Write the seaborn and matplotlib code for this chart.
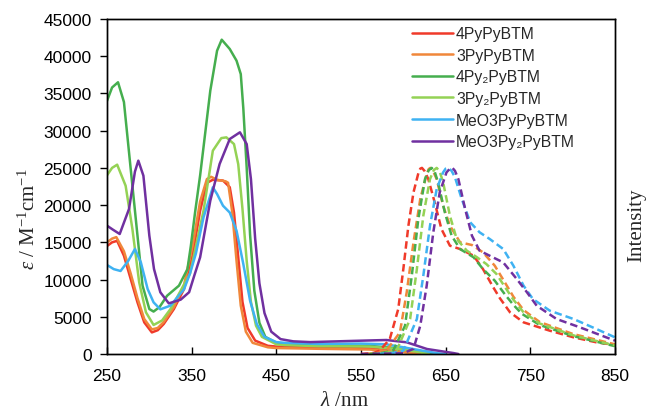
import numpy as np
import pandas as pd
import matplotlib
matplotlib.use("Agg")
import matplotlib.pyplot as plt
import seaborn as sns

# ---------------- data ----------------
names = ["4PyPyBTM", "3PyPyBTM", "4Py\u2082PyBTM", "3Py\u2082PyBTM", "MeO3PyPyBTM", "MeO3Py\u2082PyBTM"]
colors = ["#F03A2A", "#F0873A", "#45AE4E", "#94D255", "#3FB2F2", "#7030A0"]

# absorption (epsilon / M-1 cm-1)
abs_red_wl = [250, 256, 262, 270, 278, 286, 294, 303, 310, 317, 329, 341, 351, 360, 368, 375, 387, 395, 400, 405, 410, 416, 425, 440, 450, 500, 560, 600, 620]
abs_red_ep = [14500, 15000, 15200, 13200, 10070, 6940, 4250, 2900, 3200, 4030, 6040, 8730, 13200, 19250, 23000, 23400, 23300, 22400, 19000, 13000, 7000, 3500, 1800, 1100, 1000, 900, 750, 300, 0]

abs_org_wl = [250, 256, 261, 270, 278, 286, 294, 303, 310, 317, 329, 341, 351, 360, 368, 373, 380, 390, 393, 398, 403, 408, 414, 422, 440, 450, 500, 560, 600, 620]
abs_org_ep = [15000, 15500, 15700, 13800, 10800, 7500, 4700, 3300, 3500, 4300, 6300, 9300, 14500, 20500, 23500, 23800, 23400, 23200, 23000, 19000, 12500, 6500, 3000, 1500, 900, 800, 700, 600, 250, 0]

abs_grn_wl = [250, 256, 263, 270, 278, 286, 292, 300, 305, 312, 321, 335, 345, 349, 354, 360, 372, 380, 385.5, 395, 403, 408, 411, 415, 419, 424, 430, 437, 450, 460, 500, 560, 600, 630, 640]
abs_grn_ep = [34000, 35800, 36500, 33850, 24850, 15900, 9180, 6040, 5700, 6300, 7830, 9180, 11400, 14500, 19000, 24000, 35370, 40740, 42220, 40970, 39400, 37600, 33000, 25000, 16000, 8500, 4200, 2300, 1500, 1300, 1150, 1100, 700, 100, 0]

abs_lgr_wl = [250, 256, 262, 272, 280, 288, 296, 305, 315, 325, 337, 348, 356, 364, 375, 385, 391, 400, 405, 410, 415, 420, 426, 433, 450, 460, 500, 560, 600, 630]
abs_lgr_ep = [24000, 25000, 25430, 22600, 16790, 9630, 5600, 3900, 4500, 6040, 8500, 10800, 15000, 19250, 27310, 29000, 29100, 28200, 25500, 19500, 12500, 7000, 3800, 2300, 1300, 1200, 1050, 1000, 600, 50]

abs_blu_wl = [250, 258, 266, 275, 283, 290, 298, 305, 313, 325, 341, 348, 355, 364, 375, 380, 387, 395, 403, 411, 419, 427, 436, 450, 460, 500, 550, 580, 610, 640, 650]
abs_blu_ep = [11960, 11400, 11150, 12500, 14100, 12300, 8730, 6940, 6000, 6500, 8700, 10800, 13500, 18360, 22390, 21490, 19920, 19000, 16560, 12090, 7160, 4000, 2300, 1600, 1500, 1350, 1400, 1300, 700, 100, 0]

abs_pur_wl = [250, 257, 265, 276, 283, 287, 293, 300, 305.5, 313, 323, 337, 347, 353, 360, 372, 383, 395, 407, 415, 420, 425, 430, 436, 444, 455, 470, 490, 550, 580, 604, 628, 659, 665]
abs_pur_ep = [17240, 16700, 16120, 19480, 24500, 25970, 23950, 15900, 11420, 8290, 6800, 7300, 8300, 10500, 12990, 20590, 25520, 28880, 29780, 28200, 23500, 15500, 9500, 5500, 3000, 2000, 1700, 1600, 1790, 1880, 1570, 670, 130, 0]

# emission (normalised intensity, drawn on the same scale)
em_red_wl = [550, 565, 572, 584, 594, 600, 606, 612, 618, 620, 622, 625, 629.5, 637, 645, 655, 667, 683, 694, 706, 714, 726, 742, 773, 801, 828, 850]
em_red_in = [0, 150, 450, 2010, 6040, 11420, 17240, 21720, 24400, 24900, 25000, 24600, 23500, 20380, 16790, 14550, 14100, 13200, 11420, 9000, 7500, 5600, 4250, 3130, 2240, 1570, 1210]

em_org_wl = [555, 570, 580, 596, 604, 612, 620, 627.6, 630, 632, 635, 639.4, 647, 655, 667, 681, 694, 708, 720, 730, 742, 761, 800, 850]
em_org_in = [0, 150, 450, 2910, 8290, 15000, 20820, 24180, 24850, 25000, 24600, 23500, 19920, 17240, 15000, 14640, 13660, 11860, 9600, 7700, 5900, 4300, 2700, 1300]

em_grn_wl = [560, 575, 588, 602, 610, 617.7, 625.6, 630, 633.5, 637, 641, 649, 657, 667, 683, 694, 708, 720, 730, 740, 761, 801, 850]
em_grn_in = [0, 150, 450, 3800, 10520, 18130, 23500, 24700, 25000, 24500, 23060, 19030, 15900, 14100, 12990, 11420, 9850, 8000, 6600, 5400, 3900, 2400, 1050]

em_lgr_wl = [565, 580, 592, 608, 616, 623.6, 631.5, 636, 639.4, 643, 647, 655, 663, 675, 687, 698, 710, 720, 730, 742, 761, 801, 850]
em_lgr_in = [0, 150, 450, 4700, 11420, 18580, 23500, 24700, 25000, 24500, 23060, 18580, 15450, 13880, 12990, 12090, 10750, 9000, 7300, 5600, 4100, 2500, 1150]

em_blu_wl = [570, 588, 600, 616, 623.6, 631.5, 639.4, 647, 650, 653, 657, 661, 669, 679, 690, 702, 718, 730, 742, 753, 773, 801, 828, 850]
em_blu_in = [0, 150, 450, 4700, 10520, 17240, 22160, 24400, 24900, 25000, 24600, 23730, 20820, 17690, 16350, 15450, 14100, 11860, 9180, 7390, 5820, 4700, 3360, 2240]

em_pur_wl = [550, 600, 612, 620, 627.6, 635.4, 643, 651, 655, 658, 661, 665, 673, 681, 690, 702, 718, 734, 746, 757.5, 781, 808.6, 850]
em_pur_in = [0, 100, 700, 3800, 9180, 16350, 21720, 24400, 24900, 25000, 24600, 23500, 19480, 15900, 13880, 13200, 12300, 10070, 8290, 6490, 4700, 3580, 1790]

x_ticks = [250, 350, 450, 550, 650, 750, 850]
y_ticks = [0, 5000, 10000, 15000, 20000, 25000, 30000, 35000, 40000, 45000]

abs_series = [(abs_red_wl, abs_red_ep), (abs_org_wl, abs_org_ep), (abs_grn_wl, abs_grn_ep),
              (abs_lgr_wl, abs_lgr_ep), (abs_blu_wl, abs_blu_ep), (abs_pur_wl, abs_pur_ep)]
em_series = [(em_red_wl, em_red_in), (em_org_wl, em_org_in), (em_grn_wl, em_grn_in),
             (em_lgr_wl, em_lgr_in), (em_blu_wl, em_blu_in), (em_pur_wl, em_pur_in)]

abs_df = pd.concat([pd.DataFrame({"wl": w, "val": v, "compound": n})
                    for (w, v), n in zip(abs_series, names)], ignore_index=True)
em_df = pd.concat([pd.DataFrame({"wl": w, "val": v, "compound": n})
                   for (w, v), n in zip(em_series, names)], ignore_index=True)

# ---------------- styling ----------------
sns.set_theme(style="ticks")
plt.rcParams["font.family"] = ["Liberation Sans", "DejaVu Sans"]
plt.rcParams["mathtext.fontset"] = "custom"
plt.rcParams["mathtext.rm"] = "Liberation Serif"
plt.rcParams["mathtext.it"] = "Liberation Serif:italic"
plt.rcParams["axes.linewidth"] = 1.0
plt.rcParams["axes.edgecolor"] = "black"

fig = plt.figure(figsize=(6.47, 4.10), dpi=100)
ax = fig.add_axes([107 / 647, 1 - 355 / 410, (615 - 107) / 647, (355 - 20) / 410])

palette = dict(zip(names, colors))
LW = 1.8
sns.lineplot(data=abs_df, x="wl", y="val", hue="compound", hue_order=names, palette=palette,
             estimator=None, sort=False, linewidth=LW, ax=ax)
n_before = len(ax.get_lines())
sns.lineplot(data=em_df, x="wl", y="val", hue="compound", hue_order=names, palette=palette,
             estimator=None, sort=False, linewidth=LW, ax=ax, legend=False)
for line in ax.get_lines()[n_before:]:
    xd = np.asarray(line.get_xdata(), dtype=float)
    if xd.size and xd.min() >= 540:
        line.set_linestyle((0, (3, 1.6)))

ax.set_xlim(250, 850)
ax.set_ylim(0, 45000)
ax.set_xticks(x_ticks)
ax.set_yticks(y_ticks)
ax.set_xticklabels([str(t) for t in x_ticks])
ax.set_yticklabels([str(t) for t in y_ticks])
ax.tick_params(axis="y", direction="out", length=5, width=1, labelsize=12.5, colors="black", pad=6)
ax.tick_params(axis="x", direction="in", length=5, width=1, labelsize=12.5, colors="black", pad=10)
ax.tick_params(top=False, right=False)
for s in ax.spines.values():
    s.set_visible(True)
    s.set_color("black")

ax.set_xlabel(r"$\lambda$ /nm", fontfamily="Liberation Serif", fontsize=15)
ax.xaxis.label.set_va("center")
ax.xaxis.set_label_coords((344 - 107) / 508, (355 - 402) / 335)

ax.set_ylabel(r"$\varepsilon$ / M$^{-1}$cm$^{-1}$", fontfamily="Liberation Serif", fontsize=15)
ax.yaxis.label.set_va("center")
ax.yaxis.set_label_coords((29 - 107) / 508, (355 - 219) / 335)

ax2 = ax.twinx()
ax2.set_yticks([])
ax2.set_ylabel("Intensity", fontfamily="Liberation Serif", fontsize=15)
ax2.yaxis.label.set_va("center")
ax2.yaxis.set_label_coords((637 - 107) / 508, (355 - 225) / 335)

leg = ax.legend(loc="upper left", bbox_to_anchor=((409 - 107) / 508, 0.988), frameon=False,
                fontsize=11.3, handlelength=2.6, handletextpad=0.2, labelspacing=0.42,
                borderaxespad=0, borderpad=0.2)
for h in leg.get_lines():
    h.set_linewidth(LW)
    h.set_linestyle("-")

fig.savefig("out.png", dpi=100)
